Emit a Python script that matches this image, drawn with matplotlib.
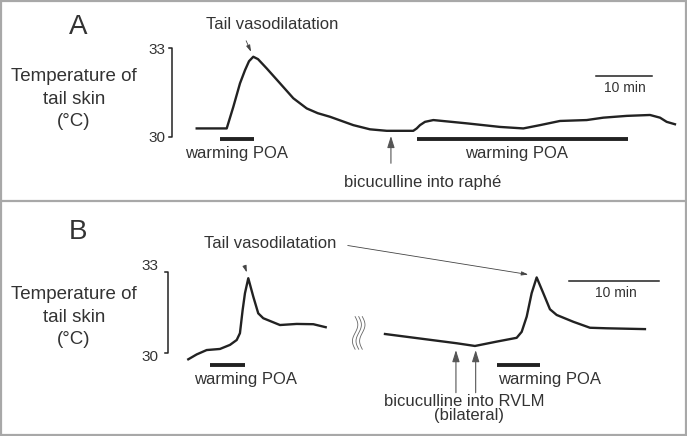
import matplotlib.pyplot as plt
import numpy as np
from matplotlib.lines import Line2D
from matplotlib.patches import Rectangle

plt.rcParams['font.family'] = ['Liberation Sans', 'DejaVu Sans']

# Panel A: tail skin temperature (time in min, temperature in °C)
a_time = [0, 5.33, 6.50, 7.69, 8.58, 9.29, 10.05, 10.89, 12.43, 14.80, 17.16, 19.54,
          21.5, 23.68, 27.82, 30.78, 33.75, 38.47, 39.08, 39.66, 40.55, 42.03, 47.96, 53.87,
          58.01, 60.98, 64.53, 69.27, 72.22, 76.38, 80.52, 82.30, 83.48, 84.95]
a_temp = [30.30, 30.30, 31.02, 31.81, 32.25, 32.55, 32.70, 32.62, 32.31, 31.81, 31.31, 30.97,
          30.81, 30.69, 30.41, 30.27, 30.22, 30.22, 30.30, 30.41, 30.52, 30.58, 30.47, 30.35,
          30.30, 30.41, 30.55, 30.58, 30.66, 30.72, 30.75, 30.66, 30.52, 30.44]
a_warming = [(4.14, 10.18), (39.08, 76.66)]
a_bicuculline = 34.5

# Panel B: two recordings separated by a break
b_time1 = [0, 0.94, 2.05, 3.53, 4.65, 5.40, 5.76, 6.06, 6.32, 6.69, 7.25, 7.80, 8.36,
           10.22, 12.08, 13.94, 15.32]
b_temp1 = [29.78, 29.96, 30.12, 30.16, 30.31, 30.49, 30.74, 31.59, 32.21, 32.76, 32.08,
           31.47, 31.29, 31.04, 31.08, 31.07, 30.96]
b_time2 = [21.93, 29.92, 31.96, 34.38, 36.61, 37.17, 37.73, 38.28, 38.84, 39.58, 40.32,
           41.07, 42.92, 44.78, 46.64, 50.91]
b_temp2 = [30.71, 30.37, 30.27, 30.43, 30.57, 30.79, 31.35, 32.21, 32.79, 32.21, 31.62,
           31.41, 31.16, 30.94, 30.92, 30.89]
b_warming = [(2.42, 6.32), (34.38, 39.21)]
b_bicuculline = [29.84, 32.04]

ink = '#222222'
txt = '#333333'

fig = plt.figure(figsize=(6.87, 4.36), dpi=100)
axA = fig.add_axes([0, 0.539, 1, 0.461])
axB = fig.add_axes([0, 0, 1, 0.539])
axA.set_xlim(-34.94, 87.09)
axA.set_ylim(27.87, 34.60)
axB.set_xlim(-20.99, 55.60)
axB.set_ylim(26.96, 35.60)
for ax in (axA, axB):
    ax.set_axis_off()

# ---------- panel A ----------
axA.plot(a_time, a_temp, color=ink, lw=1.7, solid_joinstyle='round')
for t0, t1 in a_warming:
    axA.plot([t0, t1], [29.93, 29.93], color=ink, lw=2.8, solid_capstyle='butt')
axA.text(np.mean(a_warming[0]), 29.47, 'warming POA', ha='center', va='center',
         fontsize=12, color=txt)
axA.text(np.mean(a_warming[1]) - 1.0, 29.47, 'warming POA', ha='center', va='center',
         fontsize=12, color=txt)

axA.annotate('', xy=(a_bicuculline, 30.14), xytext=(a_bicuculline, 29.04),
             arrowprops=dict(arrowstyle='-|>,head_length=0.7,head_width=0.22',
                             color='#555555', lw=0.8))
axA.text(40.2, 28.50, 'bicuculline into raphé', ha='center', va='center',
         fontsize=12, color=txt)

axA.text(13.37, 33.79, 'Tail vasodilatation', ha='center', va='center',
         fontsize=12, color=txt)
axA.annotate('', xy=(9.85, 32.78), xytext=(8.58, 33.32),
             arrowprops=dict(arrowstyle='-|>,head_length=0.4,head_width=0.12',
                             color='#444444', lw=0.6))

# vertical scale
axA.plot([-4.95, -4.42, -4.42, -4.95], [33, 33, 30, 30], color=ink, lw=1.1)
axA.text(-5.63, 32.93, '33', ha='right', va='center', fontsize=11, color=txt)
axA.text(-5.63, 29.98, '30', ha='right', va='center', fontsize=11, color=txt)
axA.text(-21.79, 31.28, 'Temperature of\ntail skin\n(°C)', ha='center', va='center',
         fontsize=13.5, color=txt, linespacing=1.4)
axA.text(-21.08, 33.69, 'A', ha='center', va='center', fontsize=20, color=txt)

# time scale
axA.plot([70.92, 80.87], [32.05, 32.05], color=ink, lw=1.1)
axA.text(76.07, 31.65, '10 min', ha='center', va='center', fontsize=10, color=txt)

# ---------- panel B ----------
axB.plot(b_time1, b_temp1, color=ink, lw=1.7, solid_joinstyle='round')
axB.plot(b_time2, b_temp2, color=ink, lw=1.7, solid_joinstyle='round')
for t0, t1 in b_warming:
    axB.plot([t0, t1], [29.57, 29.57], color=ink, lw=2.8, solid_capstyle='butt')
axB.text(6.40, 29.02, 'warming POA', ha='center', va='center', fontsize=12, color=txt)
axB.text(40.32, 29.02, 'warming POA', ha='center', va='center', fontsize=12, color=txt)

for tb in b_bicuculline:
    axB.annotate('', xy=(tb, 30.22), xytext=(tb, 28.45),
                 arrowprops=dict(arrowstyle='-|>,head_length=0.7,head_width=0.22',
                                 color='#555555', lw=0.8))
axB.text(30.74, 28.22, 'bicuculline into RVLM', ha='center', va='center',
         fontsize=12, color=txt)
axB.text(31.3, 27.70, '(bilateral)', ha='center', va='center', fontsize=12, color=txt)

axB.text(9.11, 34.04, 'Tail vasodilatation', ha='center', va='center',
         fontsize=12, color=txt)
axB.annotate('', xy=(6.62, 32.88), xytext=(6.24, 33.25),
             arrowprops=dict(arrowstyle='-|>,head_length=0.4,head_width=0.12',
                             color='#444444', lw=0.6))
axB.annotate('', xy=(38.2, 32.88), xytext=(17.47, 33.98),
             arrowprops=dict(arrowstyle='-|>,head_length=0.4,head_width=0.12',
                             color='#444444', lw=0.6))

# break marks between the two recordings
s = np.linspace(0, 1, 40)
for k in range(3):
    axB.plot(18.6 + 0.4 * k + 0.3 * np.sin(2 * np.pi * s), 31.35 - 1.2 * s,
             color='#666666', lw=0.6)

# vertical scale
axB.plot([-2.59, -2.26, -2.26, -2.59], [33, 33, 30, 30], color=ink, lw=1.1)
axB.text(-3.38, 33.21, '33', ha='right', va='center', fontsize=11, color=txt)
axB.text(-3.38, 29.86, '30', ha='right', va='center', fontsize=11, color=txt)
axB.text(-12.74, 31.33, 'Temperature of\ntail skin\n(°C)', ha='center', va='center',
         fontsize=13.5, color=txt, linespacing=1.4)
axB.text(-12.30, 34.47, 'B', ha='center', va='center', fontsize=20, color=txt)

# time scale
axB.plot([42.48, 52.48], [32.67, 32.67], color=ink, lw=1.1)
axB.text(47.66, 32.20, '10 min', ha='center', va='center', fontsize=10, color=txt)

# frame and divider
fig.add_artist(Rectangle((0.002, 0.003), 0.996, 0.994, transform=fig.transFigure,
                         fill=False, edgecolor='#a8a8a8', lw=1.6))
fig.add_artist(Line2D([0, 1], [0.539, 0.539], transform=fig.transFigure,
                      color='#a8a8a8', lw=1.6))

fig.savefig('out.png', dpi=100)
